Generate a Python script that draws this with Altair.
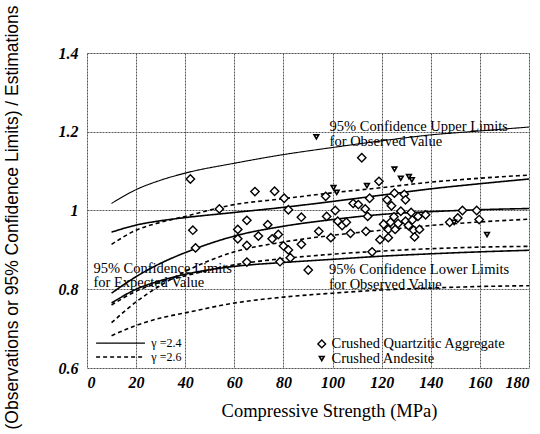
import altair as alt
import pandas as pd

# Compressive strength grid (MPa) at which the limit curves are tabulated
curve_x = [10, 20, 30, 40, 60, 80, 100, 120, 140, 160, 180]

# gamma = 2.4 (solid)
upper_obs_24 = [1.018, 1.053, 1.077, 1.095, 1.120, 1.142, 1.160, 1.177, 1.192, 1.202, 1.212]
upper_exp_24 = [0.945, 0.963, 0.974, 0.982, 0.995, 1.008, 1.023, 1.039, 1.055, 1.068, 1.080]
lower_exp_24 = [0.790, 0.832, 0.866, 0.893, 0.935, 0.960, 0.977, 0.990, 0.997, 1.002, 1.005]
lower_obs_24 = [0.765, 0.800, 0.822, 0.838, 0.858, 0.868, 0.876, 0.884, 0.890, 0.895, 0.899]

# gamma = 2.6 (dashed)
upper_obs_26 = [0.914, 0.950, 0.970, 0.985, 1.015, 1.030, 1.045, 1.058, 1.072, 1.082, 1.090]
upper_exp_26 = [0.715, 0.768, 0.810, 0.845, 0.895, 0.920, 0.937, 0.950, 0.962, 0.971, 0.978]
lower_exp_26 = [0.760, 0.795, 0.818, 0.834, 0.862, 0.878, 0.889, 0.897, 0.903, 0.907, 0.909]
lower_obs_26 = [0.682, 0.708, 0.727, 0.740, 0.765, 0.780, 0.790, 0.798, 0.803, 0.807, 0.809]

# Crushed quartzitic aggregate observations
quartz_x = [42.1, 43.1, 44.2, 53.9, 61.4, 61.4, 65.1, 65.1, 65.1, 68.4, 69.8, 73.6, 75.4, 76.4,
            77.9, 78.6, 80.3, 80.0, 82.0, 82.0, 82.8, 87.3, 87.3, 90.1, 94.4, 97.2, 97.6, 99.3,
            101.1, 102.1, 103.9, 105.6, 107.3, 108.4, 111.9, 113.3, 113.6, 114.3, 115.1, 116.1,
            118.9, 119.3, 120.8, 122.2, 122.7, 122.7, 123.6, 125.0, 125.2, 125.5, 126.7, 127.8,
            129.2, 129.7, 129.7, 130.9, 132.0, 132.5, 133.0, 133.4, 134.8, 135.4, 137.9, 147.7,
            151.0, 152.9, 158.7, 159.7, 124.0, 110.5]
quartz_y = [1.080, 0.950, 0.905, 1.004, 0.952, 0.928, 0.975, 0.911, 0.869, 1.048, 0.935, 0.964,
            0.928, 1.049, 0.939, 0.870, 1.031, 0.910, 1.002, 0.900, 0.880, 0.914, 0.983, 0.849,
            0.947, 1.036, 0.985, 0.931, 1.000, 0.973, 0.962, 0.970, 0.942, 1.018, 1.134, 1.004,
            0.947, 0.985, 1.031, 0.895, 1.074, 0.926, 0.965, 1.027, 0.952, 0.931, 0.970, 0.984,
            1.044, 0.952, 0.967, 0.998, 1.041, 1.027, 0.973, 0.962, 0.995, 0.976, 0.950, 0.933,
            0.985, 0.952, 0.989, 0.970, 0.981, 1.000, 1.000, 0.977, 1.012, 1.015]

# Crushed andesite observations
andesite_x = [93.4, 100.4, 101.7, 114.0, 125.2, 127.8, 131.1, 132.3, 162.9, 149.5]
andesite_y = [1.187, 1.058, 1.046, 1.063, 1.105, 1.082, 1.086, 1.078, 0.939, 0.970]

# Curve annotations: (x, y, text)
note_x = [98.8, 98.8, 2.6, 2.6, 98.6, 98.6]
note_y = [1.212, 1.174, 0.852, 0.815, 0.850, 0.812]
note_text = ["95% Confidence Upper Limits", "for Observed Value",
             "95% Confidence Limits", "for Expected Value",
             "95% Confidence Lower Limits", "for Observed Value"]

# Key entries
key_line_x = [3.7, 23.6]
key_line_y = [0.663, 0.628]
key_line_text = ["\u03b3 =2.4", "\u03b3 =2.6"]
key_gamma = ["2.4", "2.6"]
key_sym_x = 95.6
key_sym_y = [0.661, 0.624]
key_sym_text = ["Crushed Quartzitic Aggregate", "Crushed Andesite"]

serif = "Liberation Serif"
sans = "Liberation Sans"

curves = {
    ("upper_obs", "2.4"): upper_obs_24, ("upper_exp", "2.4"): upper_exp_24,
    ("lower_exp", "2.4"): lower_exp_24, ("lower_obs", "2.4"): lower_obs_24,
    ("upper_obs", "2.6"): upper_obs_26, ("upper_exp", "2.6"): upper_exp_26,
    ("lower_exp", "2.6"): lower_exp_26, ("lower_obs", "2.6"): lower_obs_26,
}
rows = []
for (name, g), ys in curves.items():
    for xv, yv in zip(curve_x, ys):
        rows.append({"x": xv, "y": yv, "curve": name + g, "gamma": g,
                     "w": 1.1 if name == "upper_obs" and g == "2.4" else 1.6})
curve_df = pd.DataFrame(rows)

xs = alt.Scale(domain=[0, 180], nice=False)
ys = alt.Scale(domain=[0.6, 1.4], nice=False)
dash_scale = alt.Scale(domain=["2.4", "2.6"], range=[[1, 0], [4, 3]])

x_axis = alt.Axis(values=list(range(0, 181, 20)), title="Compressive Strength (MPa)",
                  labelFontStyle="italic", labelFontWeight="bold", labelFontSize=16,
                  labelColor="black", labelPadding=6, ticks=False, domain=False,
                  grid=True, gridColor="#555", gridDash=[2, 1], gridWidth=1,
                  titleFontSize=18.5, titleFontWeight="normal", titleColor="black",
                  titleX=242, titleY=42, titleBaseline="middle")
y_axis = alt.Axis(values=[0.6, 0.7, 0.8, 0.9, 1.0, 1.1, 1.2, 1.3, 1.4],
                  labelExpr="datum.value == 1 ? '1' : format(datum.value, '.1f')",
                  title="(Observations or 95% Confidence Limits) / Estimations",
                  labelFontStyle="italic", labelFontWeight="bold", labelFontSize=16,
                  labelColor="black", labelPadding=9, ticks=False, domain=False,
                  grid=True, gridColor="#555", gridDash=[2, 1], gridWidth=1,
                  titleFont=sans, titleFontSize=17.5, titleFontWeight="normal",
                  titleColor="black", titleX=-75, titleY=164, titleBaseline="middle")

lines = alt.Chart(curve_df).mark_line(color="black", interpolate="monotone").encode(
    x=alt.X("x:Q", scale=xs, axis=x_axis),
    y=alt.Y("y:Q", scale=ys, axis=y_axis),
    detail="curve:N",
    strokeDash=alt.StrokeDash("gamma:N", scale=dash_scale, legend=None),
    strokeWidth=alt.StrokeWidth("w:Q", scale=None, legend=None),
)

quartz = alt.Chart(pd.DataFrame({"x": quartz_x, "y": quartz_y})).mark_point(
    shape="diamond", size=70, filled=True, fill="white", stroke="black", strokeWidth=1.4, opacity=1
).encode(x=alt.X("x:Q", scale=xs), y=alt.Y("y:Q", scale=ys))

andesite = alt.Chart(pd.DataFrame({"x": andesite_x, "y": andesite_y})).mark_point(
    shape="triangle-down", size=22, filled=True, fill="white", stroke="black", strokeWidth=1.6, opacity=1
).encode(x=alt.X("x:Q", scale=xs), y=alt.Y("y:Q", scale=ys))

notes = alt.Chart(pd.DataFrame({"x": note_x, "y": note_y, "t": note_text})).mark_text(
    align="left", baseline="middle", fontSize=14.5, color="black"
).encode(x=alt.X("x:Q", scale=xs), y=alt.Y("y:Q", scale=ys), text="t:N")

key_rows = []
for g, yv in zip(key_gamma, key_line_y):
    for xv in key_line_x:
        key_rows.append({"x": xv, "y": yv, "gamma": g})
key_lines = alt.Chart(pd.DataFrame(key_rows)).mark_line(color="black", strokeWidth=1.3).encode(
    x=alt.X("x:Q", scale=xs), y=alt.Y("y:Q", scale=ys), detail="gamma:N",
    strokeDash=alt.StrokeDash("gamma:N", scale=dash_scale, legend=None),
)
key_line_labels = alt.Chart(pd.DataFrame({"x": [key_line_x[1] + 2.6] * 2, "y": key_line_y,
                                          "t": key_line_text})).mark_text(
    align="left", baseline="middle", fontSize=12, color="black"
).encode(x=alt.X("x:Q", scale=xs), y=alt.Y("y:Q", scale=ys), text="t:N")

key_diamond = alt.Chart(pd.DataFrame({"x": [key_sym_x], "y": [key_sym_y[0]]})).mark_point(
    shape="diamond", size=60, filled=True, fill="white", stroke="black", strokeWidth=1.4, opacity=1
).encode(x=alt.X("x:Q", scale=xs), y=alt.Y("y:Q", scale=ys))
key_tri = alt.Chart(pd.DataFrame({"x": [key_sym_x], "y": [key_sym_y[1]]})).mark_point(
    shape="triangle-down", size=22, filled=True, fill="white", stroke="black", strokeWidth=1.6, opacity=1
).encode(x=alt.X("x:Q", scale=xs), y=alt.Y("y:Q", scale=ys))
key_sym_labels = alt.Chart(pd.DataFrame({"x": [key_sym_x + 4.0] * 2, "y": key_sym_y,
                                         "t": key_sym_text})).mark_text(
    align="left", baseline="middle", fontSize=14.5, color="black"
).encode(x=alt.X("x:Q", scale=xs), y=alt.Y("y:Q", scale=ys), text="t:N")

chart = alt.layer(
    lines, quartz, andesite, notes, key_lines, key_line_labels, key_diamond, key_tri, key_sym_labels
).properties(
    width=442, height=315,
    padding={"left": 87, "top": 53, "right": 11, "bottom": 66},
    autosize=alt.AutoSizeParams(type="none"),
).configure_view(
    stroke="black", strokeWidth=2
).configure_text(
    font=serif
).configure_axis(
    labelFont=serif, titleFont=serif
).configure(background="white", font=serif)

chart.save("out.html", embed_options={"renderer": "svg", "actions": False})
